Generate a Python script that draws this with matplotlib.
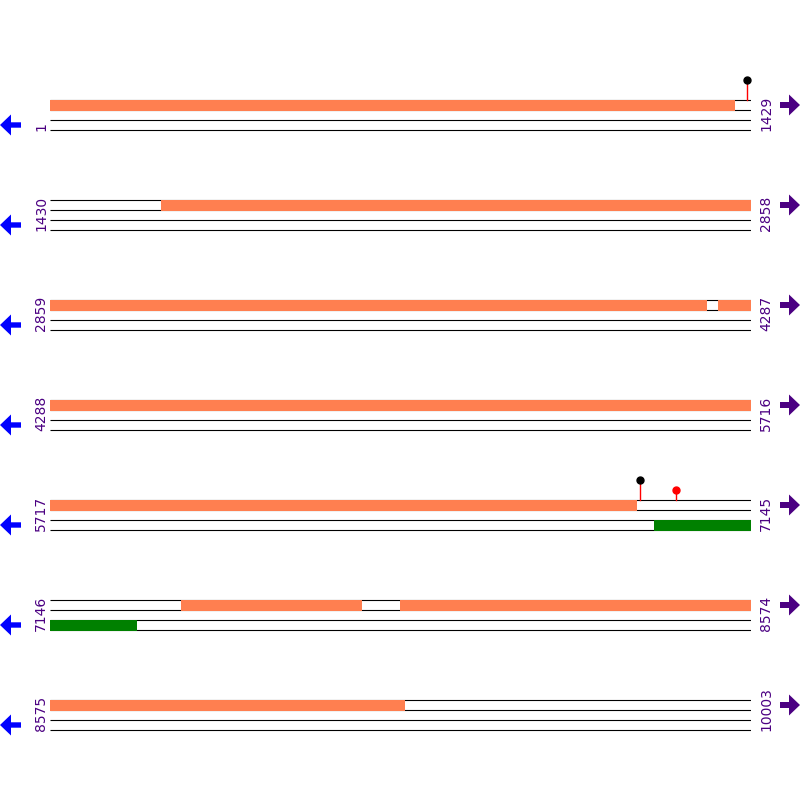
import matplotlib
matplotlib.use("Agg")
import matplotlib.pyplot as plt
from matplotlib.patches import Rectangle, Polygon

# ---- data ----
row_starts = [1, 1430, 2859, 4288, 5717, 7146, 8575]
row_ends = [1429, 2858, 4287, 5716, 7145, 8574, 10003]
coral_starts = [1, 1656, 4221, 7413, 7859]
coral_ends = [1396, 4198, 6912, 7782, 9297]
green_starts = [6948]
green_ends = [7323]
lolli_pos = [1421, 6920, 6993]
lolli_height = [20, 20, 10]
lolli_head = ["black", "black", "red"]

CORAL = "#FF7F50"
GREEN = "#008000"
PURPLE = "#4B0082"
BLUE = "#0000FF"

W, H = 800, 800
fig = plt.figure(figsize=(8, 8), dpi=100)

# overlay axes in pixel coordinates for labels and arrows
ov = fig.add_axes([0, 0, 1, 1])
ov.set_xlim(0, W)
ov.set_ylim(H, 0)
ov.axis("off")

for i, (s, e) in enumerate(zip(row_starts, row_ends)):
    top = 70 + 100 * i      # pixel top of row axes
    bot = 136 + 100 * i     # pixel bottom of row axes
    ax = fig.add_axes([50 / W, 1 - bot / H, 701 / W, (bot - top) / H])
    ax.set_xlim(s - 0.5, e + 0.5)
    ax.set_ylim(136, 70)
    ax.axis("off")
    # track lines
    for yy in (100, 110, 120, 130):
        ax.plot([s - 0.5, e + 0.5], [yy, yy], color="black", lw=0.8, solid_capstyle="butt", zorder=1)
    # coral regions
    for a, b in zip(coral_starts, coral_ends):
        a2, b2 = max(a, s), min(b, e)
        if a2 <= b2:
            ax.add_patch(Rectangle((a2 - 0.5, 100), b2 - a2 + 1, 10.7, facecolor=CORAL, edgecolor="none", zorder=2))
    # green regions
    for a, b in zip(green_starts, green_ends):
        a2, b2 = max(a, s), min(b, e)
        if a2 <= b2:
            ax.add_patch(Rectangle((a2 - 0.5, 120), b2 - a2 + 1, 10.7, facecolor=GREEN, edgecolor="none", zorder=2))
    # lollipops
    for p, hgt, c in zip(lolli_pos, lolli_height, lolli_head):
        if s <= p <= e:
            ax.plot([p, p], [100, 100 - hgt], color="red", lw=1.0, zorder=3, clip_on=False)
            ax.plot([p], [100 - hgt], "o", color=c, ms=5, zorder=4, clip_on=False)
    # labels
    yb = 131 + 100 * i
    ov.text(41, yb, str(s), rotation=90, ha="center", va="bottom", color=PURPLE,
            fontsize=10, family="DejaVu Sans")
    ov.text(766, yb, str(e), rotation=90, ha="center", va="bottom", color=PURPLE,
            fontsize=10, family="DejaVu Sans")
    # left arrow (blue)
    cy = 125 + 100 * i
    ov.add_patch(Polygon([(0, cy), (11, cy - 10.5), (11, cy - 2.7), (21, cy - 2.7),
                          (21, cy + 2.7), (11, cy + 2.7), (11, cy + 10.5)],
                         closed=True, facecolor=BLUE, edgecolor="none"))
    # right arrow (purple)
    cy = 105 + 100 * i
    ov.add_patch(Polygon([(800, cy), (789, cy - 10.5), (789, cy - 3), (780, cy - 3),
                          (780, cy + 3), (789, cy + 3), (789, cy + 10.5)],
                         closed=True, facecolor=PURPLE, edgecolor="none"))

fig.savefig("out.png", dpi=100)
